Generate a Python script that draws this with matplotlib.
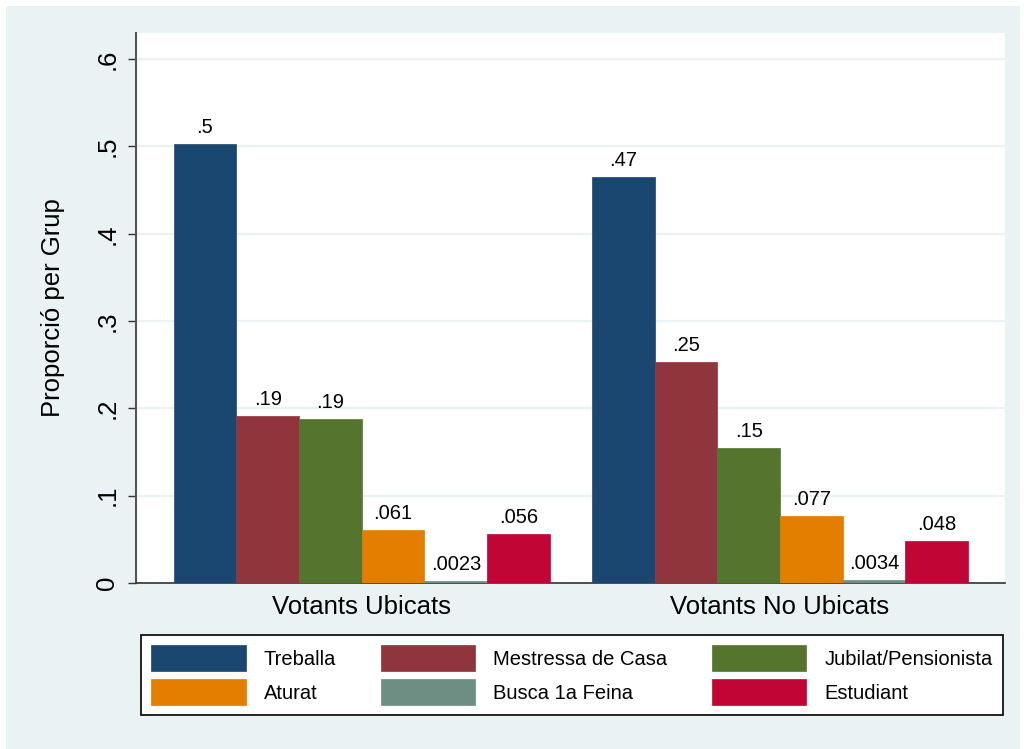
import numpy as np
import matplotlib.pyplot as plt
from matplotlib.patches import Rectangle

plt.rcParams['font.family'] = ['Liberation Sans', 'DejaVu Sans']

## Data

groups = ['Votants Ubicats', 'Votants No Ubicats']
categories = ['Treballa', 'Mestressa de Casa', 'Jubilat/Pensionista',
              'Aturat', 'Busca 1a Feina', 'Estudiant']
vals_ubicats = [0.503, 0.191, 0.188, 0.061, 0.0023, 0.056]
vals_no_ubicats = [0.465, 0.253, 0.155, 0.077, 0.0034, 0.048]
yticks = [0, 0.1, 0.2, 0.3, 0.4, 0.5, 0.6]

# stata s2color palette
colors = ['#1A476F', '#90353B', '#55752F', '#E37E00', '#6E8E84', '#C10534']
bg = '#EAF2F3'


def stata_label(v):
    # 2 significant digits, no leading zero (like Stata %g)
    s = f'{v:.2g}'
    if s.startswith('0.'):
        s = s[1:]
    return s


## Figure

fig = plt.figure(figsize=(10.24, 7.49), dpi=100, facecolor='white')
fig.patches.append(Rectangle((6/1024, 0), 1 - 10/1024, 1 - 6/749,
                             transform=fig.transFigure, facecolor=bg,
                             edgecolor='none', zorder=-10))

ax = fig.add_axes([136/1024, 1 - 583/749, (1005 - 136)/1024, (583 - 33)/749])
ax.set_facecolor('white')

group_starts = [0.6, 7.27]
all_vals = [vals_ubicats, vals_no_ubicats]
for g, vals in enumerate(all_vals):
    x = group_starts[g] + np.arange(len(vals)) + 0.5
    for i, v in enumerate(vals):
        ax.bar(x[i], v, width=1.0, color=colors[i], edgecolor=colors[i],
               linewidth=0.5, zorder=3, label=categories[i] if g == 0 else None)
        ax.annotate(stata_label(v), (x[i], v), xytext=(0, 5),
                    textcoords='offset points', ha='center', va='bottom',
                    fontsize=14.5, zorder=4)

ax.set_xlim(0, 13.86)
ax.set_ylim(0, 0.63)

ax.set_yticks(yticks)
ax.set_yticklabels([stata_label(t) if t != 0 else '0' for t in yticks],
                   rotation=90, va='center', fontsize=18.5)
ax.tick_params(axis='y', length=6, width=1, color='#333333', pad=6)
ax.yaxis.grid(True, color=bg, linewidth=1.6, zorder=0)
ax.set_axisbelow(True)

ax.set_xticks([group_starts[g] + 3 for g in range(len(groups))])
ax.set_xticklabels(groups, fontsize=18.5)
ax.tick_params(axis='x', length=0, pad=9)

ax.set_ylabel('Proporció per Grup', fontsize=18.5, labelpad=22)

for s in ['top', 'right']:
    ax.spines[s].set_visible(False)
ax.spines['left'].set_color('#555555')
ax.spines['left'].set_linewidth(1.5)
ax.spines['bottom'].set_color('#333333')
ax.spines['bottom'].set_linewidth(1.2)

# legend filled row-wise like Stata
handles, labels = ax.get_legend_handles_labels()
order = [0, 3, 1, 4, 2, 5]
leg = fig.legend([handles[i] for i in order], [labels[i] for i in order],
                 ncol=3, loc='center', bbox_to_anchor=(572/1024, 1 - 675/749),
                 fontsize=14.5, frameon=True, fancybox=False, framealpha=1,
                 handlelength=4.7, handleheight=1.6, handletextpad=0.9,
                 columnspacing=2.2, labelspacing=0.4, borderpad=0.5)
leg.get_frame().set_edgecolor('black')
leg.get_frame().set_linewidth(1.2)

fig.savefig('out.png', dpi=100, facecolor=fig.get_facecolor())
